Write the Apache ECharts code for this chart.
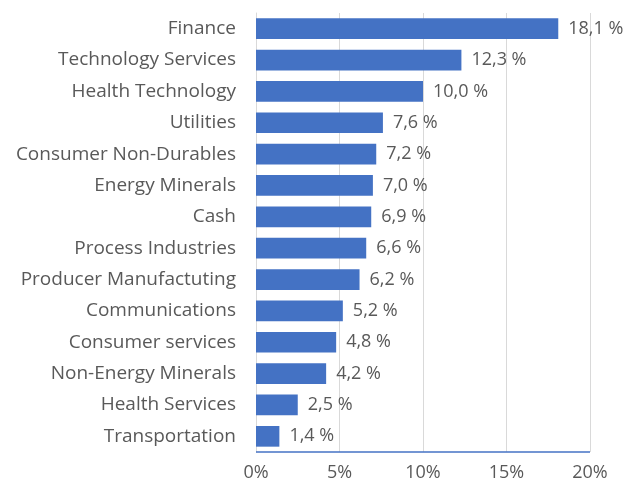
<!DOCTYPE html>
<html>
<head>
    <meta charset="utf-8">
    <title>Sectors</title>
    <script src="https://cdn.jsdelivr.net/npm/echarts@6/dist/echarts.min.js"></script>
    <style>
        html, body { margin: 0; padding: 0; background: #fff; }
    </style>
</head>
<body>
    <div id="main" style="width: 632px;height:489px;"></div>
    <script type="text/javascript">
        var categories = ['Finance', 'Technology Services', 'Health Technology', 'Utilities',
            'Consumer Non-Durables', 'Energy Minerals', 'Cash', 'Process Industries',
            'Producer Manufactuting', 'Communications', 'Consumer services',
            'Non-Energy Minerals', 'Health Services', 'Transportation'];
        var weights = [18.1, 12.3, 10.0, 7.6, 7.2, 7.0, 6.9, 6.6, 6.2, 5.2, 4.8, 4.2, 2.5, 1.4];
        var ticks = [0, 5, 10, 15, 20];

        var font = 'Open Sans';
        var textColor = '#595959';

        var myChart = echarts.init(document.getElementById('main'));

        var option = {
            animation: false,
            grid: { left: 256, right: 42, top: 13, bottom: 37 },
            xAxis: {
                type: 'value',
                min: ticks[0],
                max: ticks[ticks.length - 1],
                interval: 5,
                axisLine: { show: false },
                axisTick: { show: false },
                splitLine: { lineStyle: { color: '#d9d9d9', width: 1 } },
                axisLabel: {
                    color: textColor, fontFamily: font, fontSize: 18, margin: 12,
                    formatter: '{value}%'
                }
            },
            yAxis: {
                type: 'category',
                inverse: true,
                data: categories,
                axisLine: { show: true, lineStyle: { color: '#d9d9d9' } },
                axisTick: { show: false },
                axisLabel: { color: textColor, fontFamily: font, fontSize: 19, margin: 20 }
            },
            series: [{
                type: 'bar',
                data: weights,
                barWidth: '66%',
                itemStyle: { color: '#4472c4' },
                label: {
                    show: true,
                    position: 'right',
                    distance: 10,
                    color: textColor,
                    fontFamily: font,
                    fontSize: 18,
                    formatter: function (p) { return p.value.toFixed(1).replace('.', ',') + ' %'; }
                }
            }, {
                // blue baseline along the bottom of the plot
                type: 'line',
                data: [],
                markLine: {
                    silent: true, symbol: 'none', label: { show: false },
                    lineStyle: { color: '#4472c4', width: 1.5, type: 'solid' },
                    data: [[{ coord: [0, categories[categories.length - 1]], y: 452 }, { x: 590, y: 452 }]]
                }
            }]
        };

        myChart.setOption(option);
    </script>
</body>
</html>
